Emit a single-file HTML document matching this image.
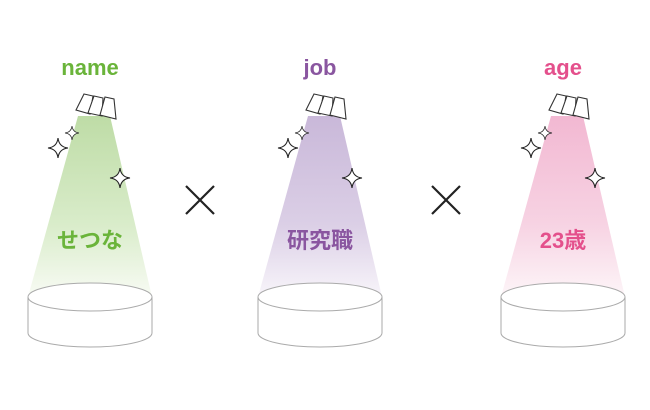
<!DOCTYPE html>
<html><head><meta charset="utf-8"><style>
html,body{margin:0;padding:0;background:#fff;width:650px;height:410px;overflow:hidden}
svg{display:block}
text{font-family:"Liberation Sans","Noto Sans CJK JP",sans-serif;font-weight:bold;text-anchor:middle}
</style></head><body>
<svg width="650" height="410" viewBox="0 0 650 410" xmlns="http://www.w3.org/2000/svg">
<defs>
<linearGradient id="g1" x1="0" y1="0" x2="0" y2="1"><stop offset="0" stop-color="#bedcA6"/><stop offset="0.6" stop-color="#d9ecca"/><stop offset="1" stop-color="#f8fbf4"/></linearGradient>
<linearGradient id="g2" x1="0" y1="0" x2="0" y2="1"><stop offset="0" stop-color="#c9b8d9"/><stop offset="0.6" stop-color="#dbcfe6"/><stop offset="1" stop-color="#f8f5fa"/></linearGradient>
<linearGradient id="g3" x1="0" y1="0" x2="0" y2="1"><stop offset="0" stop-color="#f2b8d2"/><stop offset="0.6" stop-color="#f7d3e3"/><stop offset="1" stop-color="#fdf5f8"/></linearGradient>
<g id="lamp" fill="#fff" stroke="#333" stroke-width="1.1">
<path d="M-6,94 L3,96 L0,114 L-14,110 Z"/>
<path d="M4,96 L13,98 L12,116 L-2,113 Z"/>
<path d="M15,97 L24,99 L26,119 L10,115 Z"/>
</g>
<path id="sp" d="M0,-10 Q1,-1 10,0 Q1,1 0,10 Q-1,1 -10,0 Q-1,-1 0,-10 Z" fill="#fff" stroke="#222" stroke-width="1.1"/>
<g id="plat" fill="#fff" stroke="#aaa" stroke-width="1">
<path d="M-62,297 L-62,333 A62,14 0 0 0 62,333 L62,297"/>
<ellipse cx="0" cy="297" rx="62" ry="14"/>
</g>
</defs>

<g transform="translate(90,0)">
<polygon points="-12,116 20,116 62,297 -62,297" fill="url(#g1)"/>
<use href="#plat"/>
<use href="#lamp"/>
<use href="#sp" transform="translate(-18,133) scale(0.7)"/>
<use href="#sp" transform="translate(-32,148)"/>
<use href="#sp" transform="translate(30,178)"/>
<text x="0" y="75" font-size="22" fill="#6ab43a">name</text>
<text x="0" y="248" font-size="22" fill="#6ab43a">せつな</text>
</g>

<g transform="translate(320,0)">
<polygon points="-12,116 20,116 62,297 -62,297" fill="url(#g2)"/>
<use href="#plat"/>
<use href="#lamp"/>
<use href="#sp" transform="translate(-18,133) scale(0.7)"/>
<use href="#sp" transform="translate(-32,148)"/>
<use href="#sp" transform="translate(32,178)"/>
<text x="0" y="75" font-size="22" fill="#8a56a0">job</text>
<text x="0" y="248" font-size="22" fill="#8a56a0">研究職</text>
</g>

<g transform="translate(563,0)">
<polygon points="-12,116 20,116 62,297 -62,297" fill="url(#g3)"/>
<use href="#plat"/>
<use href="#lamp"/>
<use href="#sp" transform="translate(-18,133) scale(0.7)"/>
<use href="#sp" transform="translate(-32,148)"/>
<use href="#sp" transform="translate(32,178)"/>
<text x="0" y="75" font-size="22" fill="#e4508c">age</text>
<text x="0" y="248" font-size="22" fill="#e4508c">23歳</text>
</g>

<g stroke="#222" stroke-width="2.2">
<line x1="186" y1="186" x2="214" y2="214"/><line x1="214" y1="186" x2="186" y2="214"/>
<line x1="432" y1="186" x2="460" y2="214"/><line x1="460" y1="186" x2="432" y2="214"/>
</g>
</svg>
</body></html>
